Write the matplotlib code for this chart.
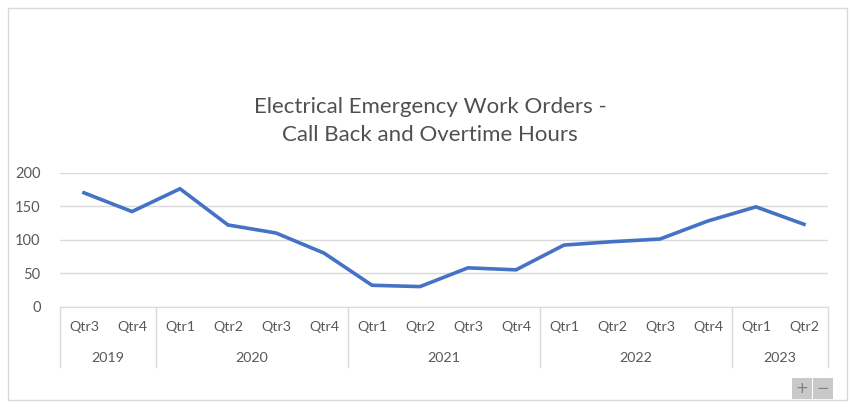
import matplotlib.pyplot as plt
from matplotlib.patches import Rectangle

# Quarterly hours, Q3 2019 through Q2 2023
quarters = ['Qtr3', 'Qtr4',
            'Qtr1', 'Qtr2', 'Qtr3', 'Qtr4',
            'Qtr1', 'Qtr2', 'Qtr3', 'Qtr4',
            'Qtr1', 'Qtr2', 'Qtr3', 'Qtr4',
            'Qtr1', 'Qtr2']
years = ['2019', '2020', '2021', '2022', '2023']
quarters_per_year = [2, 4, 4, 4, 2]
hours = [170, 142, 176, 122, 110, 80, 32, 30, 58, 55, 92, 97, 101, 128, 149, 123]

yticks = [0, 50, 100, 150, 200]

plt.rcParams['font.family'] = ['Lato', 'DejaVu Sans']
text_col = '#595959'
grid_col = '#d9d9d9'

fig = plt.figure(figsize=(8.53, 4.08), dpi=100)

# chart border
fig.patches.append(Rectangle((8 / 853, 1 - 400 / 408), 839 / 853, 392 / 408,
                             transform=fig.transFigure, fill=False,
                             edgecolor=grid_col, linewidth=1))

ax = fig.add_axes([60 / 853, (408 - 306.7) / 408, 768 / 853, 134 / 408])
x = list(range(len(hours)))
ax.plot(x, hours, color='#4472C4', linewidth=2.6, solid_joinstyle='miter')

ax.set_xlim(-0.5, len(hours) - 0.5)
ax.set_ylim(0, 200)
ax.set_yticks(yticks)
ax.set_yticklabels([str(v) for v in yticks])
ax.yaxis.grid(True, color=grid_col, linewidth=1)
ax.set_axisbelow(True)
ax.tick_params(axis='y', length=0, pad=14, labelsize=10.5, labelcolor=text_col)
ax.set_xticks([])
for s in ['top', 'right', 'left']:
    ax.spines[s].set_visible(False)
ax.spines['bottom'].set_color(grid_col)

# two-level category axis
trans = ax.get_xaxis_transform()
for i, q in enumerate(quarters):
    ax.text(i, -0.152, q, transform=trans, ha='center', va='center',
            fontsize=10.3, color=text_col)
start = 0
bounds = [-0.5]
for yr, n in zip(years, quarters_per_year):
    mid = start + (n - 1) / 2
    ax.text(mid, -0.385, yr, transform=trans, ha='center', va='center',
            fontsize=10.3, color=text_col)
    start += n
    bounds.append(start - 0.5)
for b in bounds:
    ax.plot([b, b], [0, -0.45], transform=trans, color=grid_col,
            linewidth=1, clip_on=False)

fig.text(430 / 853, 1 - 121 / 408,
         'Electrical Emergency Work Orders -\nCall Back and Overtime Hours',
         ha='center', va='center', fontsize=16, color='#505050',
         linespacing=1.55)

# zoom buttons
for bx, sym in [(792, '+'), (813, '\u2212')]:
    fig.patches.append(Rectangle((bx / 853, 1 - 399 / 408), 20 / 853, 21 / 408,
                                 transform=fig.transFigure,
                                 facecolor='#c9c9c9', edgecolor='none'))
    fig.text((bx + 10) / 853, 1 - 388.5 / 408, sym, ha='center', va='center',
             fontsize=11, color='#7f7f7f', family='DejaVu Sans')

fig.savefig('out.png', dpi=100)
